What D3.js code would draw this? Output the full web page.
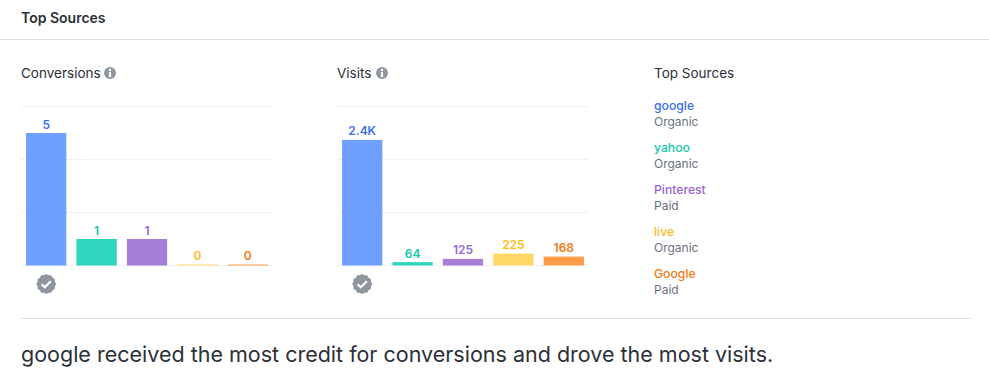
<!DOCTYPE html>
<html>
<head>
<meta charset="utf-8">
<script src="https://cdn.jsdelivr.net/npm/d3@7"></script>
<style>
  html, body { margin: 0; padding: 0; background: #fff; }
  svg { display: block; }
  text { font-family: Inter, "Noto Sans", sans-serif; }
</style>
</head>
<body>
<div id="chart"></div>
<script>
// Values.
const sources = ['google', 'yahoo', 'Pinterest', 'live', 'Google'];
const sourceTypes = ['Organic', 'Organic', 'Paid', 'Organic', 'Paid'];
const conversions = [5, 1, 1, 0, 0];
const conversionLabels = ['5', '1', '1', '0', '0'];
const conversionTicks = [0, 2, 4, 6];
const visits = [2370, 64, 125, 225, 168];
const visitLabels = ['2.4K', '64', '125', '225', '168'];
const visitTicks = [0, 1000, 2000, 3000];

const barColors = ['#6f9fff', '#2fd6bd', '#a77fd6', '#ffd966', '#ff9d4a'];
const textColors = ['#3d6fe8', '#10c7a9', '#9a66d6', '#fcbc1c', '#f17a12'];

const width = 989, height = 379;
const svg = d3.select('#chart').append('svg').attr('width', width).attr('height', height);

// Page furniture: heading and the two rules.
svg.append('text').attr('x', 21).attr('y', 23).attr('font-size', 14).attr('font-weight', 600)
  .attr('fill', '#2b3038').text('Top Sources');
svg.append('line').attr('x1', 0).attr('x2', width).attr('y1', 39.5).attr('y2', 39.5).attr('stroke', '#dcdee1');
svg.append('line').attr('x1', 21).attr('x2', 971).attr('y1', 318.5).attr('y2', 318.5).attr('stroke', '#dcdee1');
svg.append('text').attr('x', 21).attr('y', 362).attr('font-size', 21.5).attr('fill', '#2b3038')
  .text('google received the most credit for conversions and drove the most visits.');

function infoIcon(g, cx, cy) {
  g.append('circle').attr('cx', cx).attr('cy', cy).attr('r', 6).attr('fill', '#8f96a0');
  g.append('circle').attr('cx', cx).attr('cy', cy - 3).attr('r', 1.2).attr('fill', '#fff');
  g.append('rect').attr('x', cx - 1.1).attr('y', cy - 1).attr('width', 2.2).attr('height', 5).attr('fill', '#fff');
}

// Scalloped badge with a check mark, marks the leading source.
function badge(g, cx, cy) {
  const star = d3.lineRadial().curve(d3.curveLinearClosed)
    .angle(d => d.a).radius(d => d.r);
  const pts = d3.range(24).map(i => ({ a: i * Math.PI / 12, r: i % 2 ? 9 : 10 }));
  g.append('path').attr('transform', `translate(${cx},${cy})`).attr('d', star(pts)).attr('fill', '#8f96a0');
  g.append('path').attr('transform', `translate(${cx},${cy})`).attr('d', 'M-4.5,0.3L-1.4,3.3L4.6,-2.8')
    .attr('fill', 'none').attr('stroke', '#fff').attr('stroke-width', 2.2);
}

function barPanel(left, title, titleWidth, values, labels, ticks) {
  const g = svg.append('g').attr('transform', `translate(${left},0)`);
  g.append('text').attr('x', 0).attr('y', 78).attr('font-size', 13.5).attr('fill', '#2b3038').text(title);
  infoIcon(g, titleWidth + 10, 73);

  const x = d3.scaleBand().domain(d3.range(values.length)).range([0, 252]).paddingInner(0.2).paddingOuter(0.1);
  const y = d3.scaleLinear().domain([ticks[0], ticks[ticks.length - 1]]).range([265.5, 106.5]);

  // Gridlines come from the axis, with ticks stretched across the panel.
  const axis = g.append('g')
    .call(d3.axisLeft(y).tickValues(ticks).tickSize(-251).tickFormat('').offset(0));
  axis.select('.domain').remove();
  axis.selectAll('.tick line').attr('stroke', '#eef0f2');

  // Zero values still get a hairline bar.
  g.selectAll('rect.bar').data(values).enter().append('rect')
    .attr('class', 'bar')
    .attr('x', (d, i) => x(i))
    .attr('y', d => Math.min(y(d), y(0) - 1))
    .attr('width', x.bandwidth())
    .attr('height', d => Math.max(y(0) - y(d), 1))
    .attr('fill', (d, i) => barColors[i]);

  g.selectAll('text.value').data(values).enter().append('text')
    .attr('class', 'value')
    .attr('x', (d, i) => x(i) + x.bandwidth() / 2)
    .attr('y', d => Math.min(y(d), y(0) - 1) - 4.5)
    .attr('text-anchor', 'middle')
    .attr('font-size', 12)
    .attr('font-weight', 600)
    .attr('fill', (d, i) => textColors[i])
    .text((d, i) => labels[i]);

  badge(g, x(0) + x.bandwidth() / 2, 284);
}

barPanel(21, 'Conversions', 79, conversions, conversionLabels, conversionTicks);
barPanel(337, 'Visits', 35, visits, visitLabels, visitTicks);

// Source list on the right.
const list = svg.append('g').attr('transform', 'translate(654,0)');
list.append('text').attr('x', 0).attr('y', 78).attr('font-size', 13.5).attr('fill', '#2b3038').text('Top Sources');
const rows = list.selectAll('g').data(sources).enter().append('g')
  .attr('transform', (d, i) => `translate(0,${110 + i * 42})`);
rows.append('text').attr('font-size', 12.2).attr('font-weight', 500)
  .attr('fill', (d, i) => textColors[i]).text(d => d);
rows.append('text').attr('y', 16).attr('font-size', 12).attr('fill', '#6b7280')
  .text((d, i) => sourceTypes[i]);
</script>
</body>
</html>
